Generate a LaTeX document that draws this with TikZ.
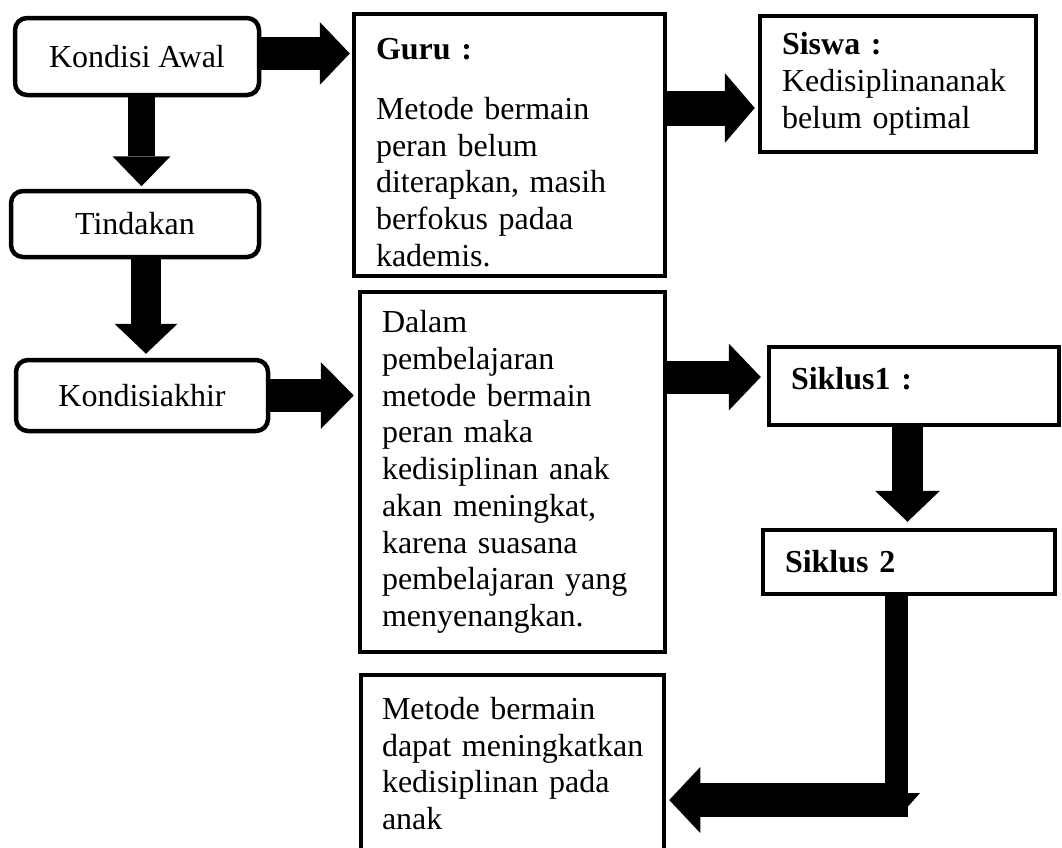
\documentclass[tikz,border=0pt]{standalone}
\usepackage{fontspec}
\setmainfont{Liberation Serif}
\usetikzlibrary{arrows.meta}

\begin{document}
\begin{tikzpicture}[x=1pt,y=-1pt,
  font=\fontsize{32}{36.75}\selectfont,
  softbox/.style={draw,line width=4.5pt,rounded corners=12pt,inner sep=0pt},
  plainbox/.style={draw,line width=4.5pt,align=left,inner xsep=22pt,inner ysep=0pt},
  bigarrow/.style args={#1/#2/#3}{line width=#1pt,-{Triangle[length=#2pt,width=#3pt,line width=0pt]}}
]
\useasboundingbox (0,0) rectangle (1062,847);

% Left column
\node[softbox,minimum width=244,minimum height=77] (awal) at (137,56.5) {Kondisi Awal};
\node[softbox,minimum width=248,minimum height=66] (tindakan) at (135,224) {Tindakan};
\node[softbox,minimum width=252,minimum height=71] (akhir) at (142,395.5) {Kondisiakhir};

% Middle column
\node[plainbox,text width=267,minimum height=262] (guru) at (509.5,145)
  {\rule{0pt}{36pt}\textbf{Guru :}\\[23.25pt]Metode bermain\\peran belum\\diterapkan, masih\\berfokus padaa\\kademis.};
\node[plainbox,text width=261,minimum height=360] (dalam) at (512.5,472)
  {Dalam\\pembelajaran\\metode bermain\\peran maka\\kedisiplinan anak\\akan meningkat,\\karena suasana\\pembelajaran yang\\menyenangkan.};
\node[plainbox,inner xsep=21pt,text width=261,minimum height=177] (metode) at (512.5,763.5)
  {Metode bermain\\\mbox{dapat meningkatkan}\\kedisiplinan pada\\anak};

% Right column
\node[plainbox,text width=232,minimum height=136] (siswa) at (898,84)
  {\textbf{Siswa :}\\Kedisiplinananak\\belum optimal};
\node[plainbox,text width=246,minimum height=78,text depth=16pt] (siklus1) at (914,386) {\textbf{Siklus1 :}};
\node[plainbox,text width=248,minimum height=64] (siklus2) at (909,562) {\textbf{Siklus 2}};

% Arrows, left column
\draw[bigarrow=33/30/63,shorten >=2pt] ([yshift=3pt]awal.east) -- ([yshift=3pt]awal.east -| guru.west);
\draw[bigarrow=27/30/58,shorten >=2.5pt] ([xshift=4.5pt]awal.south) -- ([xshift=4.5pt]awal.south |- tindakan.north);
\draw[bigarrow=30/30/63,shorten >=4pt] ([xshift=11pt]tindakan.south) -- ([xshift=11pt]tindakan.south |- akhir.north);
\draw[bigarrow=33/33/67,shorten >=4pt] (akhir.east) -- (akhir.east -| dalam.west);

% Arrows, right side
\draw[bigarrow=35/30/70,shorten >=3pt] ([yshift=37pt]guru.east) -- ([yshift=37pt]guru.east -| siswa.west);
\draw[bigarrow=33/32/67,shorten >=6pt] ([yshift=95pt]dalam.east) -- ([yshift=95pt]dalam.east -| siklus1.west);
\draw[bigarrow=31/31/65,shorten >=6pt] ([xshift=-6.5pt]siklus1.south) -- ([xshift=-6.5pt]siklus1.south |- siklus2.north);

% Return to the conclusion
\coordinate (corner) at (896.5,817);
\coordinate (elbow) at (908,800);
\draw[line width=23pt] (siklus2.south -| corner) -- (corner);
\draw[bigarrow=34/31/66,shorten >=3pt] (elbow) -- (elbow -| metode.east);
\fill (908,793) -- (920,793) -- (903,812) -- cycle;

\end{tikzpicture}
\end{document}
